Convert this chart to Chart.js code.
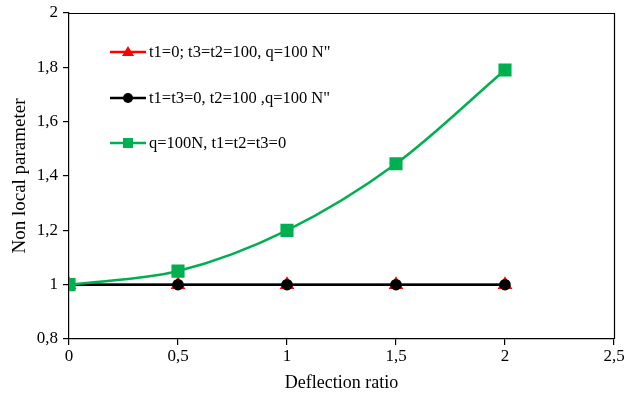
<!DOCTYPE html>
<html>
<head>
<meta charset="utf-8">
<script src="https://cdn.jsdelivr.net/npm/chart.js@4/dist/chart.umd.min.js"></script>
<style>
  html, body { margin: 0; padding: 0; background: #fff; }
  #wrap { width: 624px; height: 399px; position: relative; }
</style>
</head>
<body>
<div id="wrap"><canvas id="c"></canvas></div>
<script>
// Non local parameter vs deflection ratio, three load cases
const deflection = [0, 0.5, 1, 1.5, 2];
const seriesLabels = [
  't1=0; t3=t2=100, q=100 N"',
  't1=t3=0, t2=100 ,q=100 N"',
  'q=100N, t1=t2=t3=0'
];
const redValues = [1, 1, 1, 1, 1];
const blackValues = [1, 1, 1, 1, 1];
const greenValues = [1, 1.05, 1.2, 1.445, 1.79];
const xTicks = [0, 0.5, 1, 1.5, 2, 2.5];
const yTicks = [0.8, 1, 1.2, 1.4, 1.6, 1.8, 2];

const FONT = '"Liberation Serif", "Times New Roman", serif';
const comma = v => String(+(+v).toFixed(1)).replace('.', ',');
const pts = vals => deflection.map((x, i) => ({ x: x, y: vals[i] }));

// frame around the plot + in-plot legend
const framePlugin = {
  id: 'frameAndLegend',
  afterDraw(chart) {
    const { ctx, chartArea: a } = chart;
    ctx.save();
    ctx.strokeStyle = '#000';
    ctx.lineWidth = 1.2;
    ctx.beginPath();
    ctx.moveTo(a.left, a.top + 0.5);
    ctx.lineTo(a.right + 0.5, a.top + 0.5);
    ctx.lineTo(a.right + 0.5, a.bottom);
    ctx.stroke();

    const rows = [52, 98, 143];
    chart.data.datasets.forEach((ds, i) => {
      const y = rows[i];
      ctx.strokeStyle = ds.borderColor;
      ctx.lineWidth = 2.5;
      ctx.beginPath();
      ctx.moveTo(110, y);
      ctx.lineTo(146, y);
      ctx.stroke();
      ctx.fillStyle = ds.pointBackgroundColor;
      const cx = 128;
      ctx.beginPath();
      if (ds.pointStyle === 'triangle') {
        ctx.moveTo(cx, y - 6); ctx.lineTo(cx + 6, y + 4); ctx.lineTo(cx - 6, y + 4);
      } else if (ds.pointStyle === 'rect') {
        ctx.rect(cx - 5, y - 5, 10, 10);
      } else {
        ctx.arc(cx, y, 5, 0, Math.PI * 2);
      }
      ctx.fill();
      ctx.fillStyle = '#000';
      ctx.font = '16.5px ' + FONT;
      ctx.textBaseline = 'middle';
      ctx.textAlign = 'left';
      ctx.fillText(ds.label, 149, y + 1);
    });
    ctx.restore();
  }
};

new Chart(document.getElementById('c'), {
  type: 'line',
  data: {
    datasets: [
      {
        label: seriesLabels[0], data: pts(redValues),
        borderColor: '#ff0000', pointBackgroundColor: '#ff0000', pointBorderColor: '#ff0000',
        pointStyle: 'triangle', pointRadius: 6, borderWidth: 2.5, order: 3
      },
      {
        label: seriesLabels[1], data: pts(blackValues),
        borderColor: '#000000', pointBackgroundColor: '#000000', pointBorderColor: '#000000',
        pointStyle: 'circle', pointRadius: 4.5, borderWidth: 2.5, order: 2
      },
      {
        label: seriesLabels[2], data: pts(greenValues),
        borderColor: '#00b050', pointBackgroundColor: '#00b050', pointBorderColor: '#00b050',
        pointStyle: 'rect', pointRadius: 7.5, borderWidth: 2.5, tension: 0.4,
        cubicInterpolationMode: 'monotone', order: 1
      }
    ]
  },
  options: {
    responsive: true,
    maintainAspectRatio: false,
    animation: false,
    layout: { padding: { left: 0, right: 7, top: 13, bottom: 0 } },
    plugins: { legend: { display: false }, tooltip: { enabled: false } },
    scales: {
      x: {
        type: 'linear', min: 0, max: 2.5,
        afterBuildTicks: s => { s.ticks = xTicks.map(v => ({ value: v })); },
        afterFit: s => { s.paddingLeft = 0; s.paddingRight = 0; s.height = 60; },
        ticks: { color: '#000', font: { family: FONT, size: 17 }, padding: 1, callback: comma },
        grid: { drawOnChartArea: false, drawTicks: true, tickLength: 6, color: '#000', lineWidth: 1.2 },
        border: { color: '#000', width: 1.2 },
        title: { display: true, text: 'Deflection ratio', color: '#000', font: { family: FONT, size: 18 }, padding: { top: 0, bottom: 5 } }
      },
      y: {
        type: 'linear', min: 0.8, max: 2,
        afterBuildTicks: s => { s.ticks = yTicks.map(v => ({ value: v })); },
        afterFit: s => { s.paddingTop = 0; s.paddingBottom = 0; s.width = 69; },
        ticks: { color: '#000', font: { family: FONT, size: 17 }, padding: 5, callback: comma },
        grid: { drawOnChartArea: false, drawTicks: true, tickLength: 6, color: '#000', lineWidth: 1.2 },
        border: { color: '#000', width: 1.2 },
        title: { display: true, text: 'Non local parameter', color: '#000', font: { family: FONT, size: 19 }, padding: { top: 9, bottom: 0 } }
      }
    }
  },
  plugins: [framePlugin]
});
</script>
</body>
</html>
